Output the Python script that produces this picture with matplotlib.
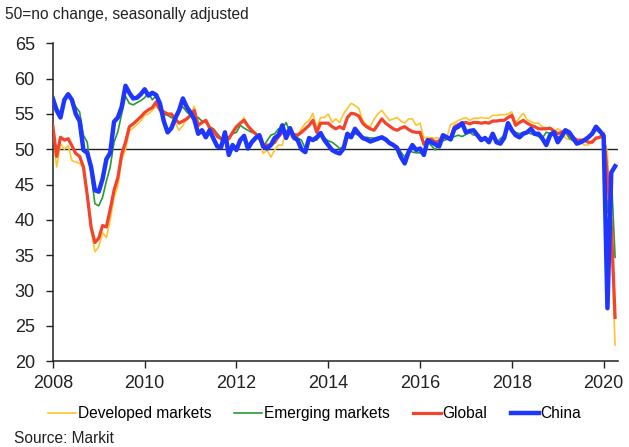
import numpy as np
import matplotlib
matplotlib.use('Agg')
import matplotlib.pyplot as plt

plt.rcParams['font.family'] = ['Liberation Sans', 'DejaVu Sans']

# Monthly composite PMI readings, Jan 2008 - Apr 2020
start_year = 2008
developed = [
    51.5, 47.5, 50.8, 50.0, 50.5, 48.4, 48.2, 48.0, 47.4, 43.5, 38.5, 35.5,
    36.2, 38.2, 37.5, 40.0, 43.2, 44.8, 48.5, 50.0, 52.6, 53.0, 53.5, 54.0,
    54.8, 55.0, 55.5, 56.2, 55.3, 55.0, 54.8, 54.6, 53.7, 52.7, 53.4, 54.3,
    55.0, 56.1, 53.2, 53.8, 54.2, 53.2, 52.6, 51.8, 51.4, 51.2, 51.3, 52.2,
    53.0, 53.7, 54.5, 53.3, 52.7, 52.3, 51.7, 49.4, 49.9, 48.9, 49.9, 50.6,
    50.6, 52.7, 52.0, 51.3, 52.0, 52.9, 53.7, 54.1, 55.1, 52.9, 54.5, 54.5,
    55.0, 53.8, 54.3, 53.8, 55.0, 55.8, 56.5, 56.2, 55.8, 54.1, 53.4, 53.2,
    54.3, 55.0, 55.5, 54.8, 54.1, 54.3, 54.5, 54.0, 53.7, 54.3, 54.3, 53.4,
    53.7, 51.6, 51.7, 51.6, 51.6, 51.6, 51.6, 51.6, 53.5, 53.7, 54.1, 54.3,
    54.5, 54.1, 54.4, 54.4, 54.5, 54.4, 54.4, 54.8, 54.8, 54.9, 54.9, 55.0,
    55.3, 53.7, 54.5, 55.1, 54.2, 53.9, 53.7, 53.7, 53.2, 53.0, 52.8, 52.4,
    52.9, 52.6, 51.6, 51.4, 51.3, 51.1, 51.0, 50.6, 50.6, 51.3, 51.4, 51.6,
    51.6, 49.6, 36.9, 22.3]
emerging = [
    57.3, 56.0, 55.0, 57.0, 57.7, 57.0, 56.0, 55.3, 52.0, 51.0, 46.5, 42.3,
    42.0, 43.2, 45.5, 47.5, 51.0, 52.5, 55.0, 57.5, 56.5, 56.3, 56.6, 56.9,
    57.3, 58.0, 57.0, 57.6, 55.8, 55.0, 54.8, 54.5, 54.3, 55.5, 56.0, 55.3,
    54.8, 54.3, 54.5, 54.0, 53.8, 53.2, 52.9, 52.2, 51.6, 51.7, 51.8, 52.2,
    52.4, 53.4, 53.0, 52.7, 52.4, 52.2, 52.0, 50.4, 51.2, 52.0, 52.2, 52.9,
    52.9, 53.8, 52.4, 52.2, 51.6, 51.3, 50.1, 51.3, 51.3, 51.3, 52.0, 51.6,
    51.2, 51.0, 50.6, 50.1, 50.4, 51.5, 52.0, 52.2, 52.0, 51.6, 51.7, 51.6,
    51.6, 51.7, 51.5, 51.3, 51.0, 50.6, 50.4, 49.6, 48.9, 49.9, 49.6, 49.5,
    49.5, 49.9, 51.0, 50.5, 49.9, 51.0, 51.2, 51.4, 51.6, 51.8, 52.0, 51.8,
    52.1, 52.4, 52.0, 52.2, 51.6, 51.3, 51.5, 51.7, 51.0, 51.5, 52.0, 53.2,
    52.6, 52.4, 52.2, 52.4, 52.4, 52.2, 52.0, 51.8, 51.6, 52.4, 52.3, 52.2,
    51.7, 51.9, 52.4, 51.6, 51.2, 51.0, 51.3, 51.4, 51.6, 52.0, 52.7, 52.4,
    52.2, 41.0, 46.5, 34.7]
global_pmi = [
    53.3, 49.0, 51.7, 51.3, 51.5, 50.5, 49.4, 49.0, 47.5, 43.5, 39.0, 36.8,
    37.4, 39.2, 39.0, 41.5, 44.2, 46.0, 49.3, 51.0, 53.2, 53.6, 54.1, 54.6,
    55.2, 55.6, 55.9, 56.7, 55.6, 55.3, 55.0, 55.0, 54.3, 53.7, 54.0, 54.3,
    54.8, 55.5, 53.4, 53.8, 54.1, 53.0, 52.7, 51.8, 51.5, 51.3, 51.5, 52.4,
    53.2, 53.7, 54.1, 53.3, 52.7, 52.2, 51.5, 50.6, 50.6, 50.6, 51.0, 51.8,
    52.4, 52.2, 52.4, 52.1, 52.0, 52.4, 52.9, 53.4, 54.1, 52.4, 53.7, 53.7,
    53.7, 53.2, 52.9, 53.2, 52.9, 54.5, 55.1, 55.0, 54.7, 53.7, 53.2, 52.9,
    52.7, 53.5, 54.3, 53.7, 53.3, 52.9, 52.7, 53.0, 53.2, 52.8, 52.5, 52.4,
    52.4, 50.7, 51.3, 51.4, 51.0, 51.2, 51.6, 51.7, 51.6, 53.2, 53.5, 53.7,
    53.8, 53.6, 53.8, 53.8, 53.7, 53.8, 53.7, 54.0, 54.0, 54.1, 54.1, 54.5,
    54.8, 53.4, 53.8, 54.1, 53.7, 53.4, 53.2, 52.9, 52.9, 52.9, 53.0, 52.6,
    52.2, 52.4, 52.7, 52.1, 51.7, 51.3, 51.3, 51.3, 51.0, 51.0, 51.6, 51.7,
    52.2, 46.1, 39.4, 26.2]
china = [
    57.2, 55.5, 54.5, 57.0, 57.8, 57.0, 55.0, 54.0, 49.9, 49.5, 47.5, 44.2,
    44.0, 45.8, 48.6, 49.5, 53.9, 54.5, 56.0, 59.0, 58.0, 57.2, 57.3, 57.8,
    58.5, 57.6, 58.0, 57.7, 56.5, 54.0, 52.4, 53.0, 54.4, 55.5, 57.2, 56.0,
    55.2, 54.2, 52.2, 52.7, 51.7, 52.7, 51.5, 50.4, 50.3, 52.4, 49.2, 50.6,
    49.9, 51.3, 51.9, 50.1, 51.0, 51.6, 52.0, 50.4, 50.1, 50.6, 51.6, 52.0,
    53.4, 51.6, 53.0, 51.7, 51.3, 50.0, 49.6, 51.6, 51.3, 51.7, 52.3, 51.3,
    50.6, 49.9, 49.6, 49.4, 50.1, 52.2, 51.7, 52.9, 52.2, 51.6, 51.4, 51.1,
    51.3, 51.5, 51.7, 51.4, 50.9, 50.6, 50.2, 48.9, 48.0, 49.6, 50.6, 49.9,
    50.1, 49.2, 51.3, 51.0, 50.7, 50.4, 52.0, 51.7, 51.4, 52.9, 53.2, 53.7,
    52.4, 52.6, 52.7, 52.0, 51.3, 51.6, 51.0, 52.2, 51.0, 50.8, 51.6, 53.7,
    52.7, 52.0, 51.7, 52.2, 52.4, 52.9, 52.2, 52.2, 51.5, 50.6, 52.0, 52.4,
    51.0, 51.8, 52.7, 52.4, 51.6, 50.8, 51.0, 51.3, 51.7, 52.2, 53.2, 52.6,
    51.9, 27.5, 46.7, 47.6]

x = start_year + np.arange(len(china)) / 12.0

fig = plt.figure(figsize=(6.29, 4.47), dpi=100)
ax = fig.add_axes([0.084, 0.192, 0.899, 0.711])

ax.axhline(50, color='#222222', lw=1.0, zorder=1)
ax.plot(x, developed, color='#FFC42E', lw=1.2, label='Developed markets', zorder=2)
ax.plot(x, emerging, color='#2A9A36', lw=1.2, label='Emerging markets', zorder=3)
ax.plot(x, global_pmi, color='#F2432C', lw=2.3, label='Global', zorder=4)
ax.plot(x, china, color='#1F36FF', lw=3.2, label='China', zorder=5)

ax.set_xlim(2008, 2020.32)
ax.set_ylim(20, 65)
ax.set_yticks(range(20, 66, 5))
ax.set_xticks(range(2008, 2021, 2))
ax.tick_params(axis='both', labelsize=13, length=5, width=1, color='#222222', labelcolor='#222222')
ax.tick_params(axis='y', pad=8)
ax.tick_params(axis='x', pad=5)

for side in ['top', 'right']:
    ax.spines[side].set_visible(False)
for side in ['left', 'bottom']:
    ax.spines[side].set_color('#222222')
    ax.spines[side].set_linewidth(1.1)

fig.text(0.008, 0.968, '50=no change, seasonally adjusted', fontsize=11.2, color='#222222', va='center')
fig.text(0.022, 0.02, 'Source: Markit', fontsize=11.2, color='#222222', va='center')

fig.legend(loc='center', bbox_to_anchor=(0.5, 0.075), ncol=4, frameon=False, fontsize=11.2,
           handlelength=1.8, handletextpad=0.1, columnspacing=1.5)

plt.savefig('out.png', dpi=100)
